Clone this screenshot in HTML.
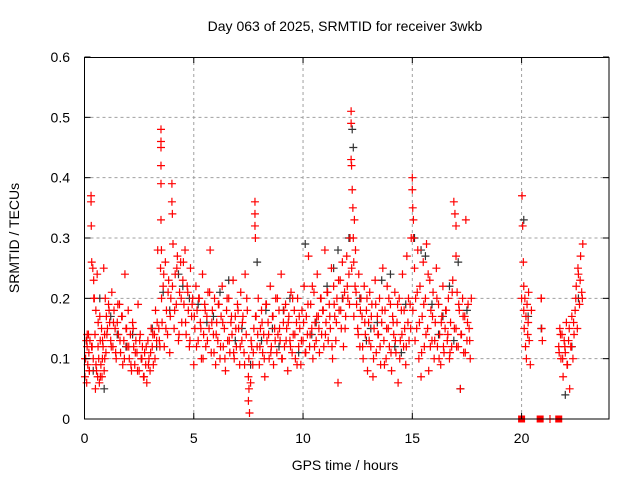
<!DOCTYPE html>
<html><head><meta charset="utf-8"><title>SRMTID 3wkb</title>
<style>
html,body{margin:0;padding:0;background:#fff;}
svg{display:block;font-family:"Liberation Sans",sans-serif;}
</style></head>
<body>
<svg id="chart" width="640" height="480" viewBox="0 0 640 480" xmlns="http://www.w3.org/2000/svg">
<rect width="640" height="480" fill="#fff"/>
<text x="345" y="31" font-size="14" text-anchor="middle" fill="#000">Day 063 of 2025, SRMTID for receiver 3wkb</text>
<g id="grid"></g>
<g id="marks"></g>
<rect x="84.5" y="57.5" width="524.5" height="361.5" fill="none" stroke="#000" stroke-width="1"/>
<g id="axes"></g>
<text x="345" y="470" font-size="14" text-anchor="middle">GPS time / hours</text>
<text transform="translate(19,238) rotate(-90)" font-size="14" text-anchor="middle">SRMTID / TECUs</text>
</svg>
<script>
const xTicks=[0,5,10,15,20];
const yTicks=[0,0.1,0.2,0.3,0.4,0.5,0.6];
const yTickLabels=["0","0.1","0.2","0.3","0.4","0.5","0.6"];
const redT=[
0.02,0.05,0.08,0.1,0.12,0.15,0.18,0.2,0.22,0.25,
0.3,0.3,0.31,0.33,0.35,0.38,0.4,0.42,0.45,0.48,
0.5,0.52,0.55,0.58,0.6,0.62,0.65,0.68,0.7,0.72,
0.75,0.78,0.8,0.82,0.85,0.88,0.9,0.92,0.95,0.98,
1.0,1.05,1.1,1.15,1.2,1.25,1.3,1.35,1.4,1.45,
1.5,1.55,1.6,1.65,1.7,1.75,1.8,1.85,1.9,1.95,
2.0,2.05,2.1,2.15,2.2,2.25,2.3,2.35,2.4,2.45,
2.5,2.55,2.6,2.65,2.7,2.75,2.8,2.85,2.9,2.95,
3.0,3.05,3.1,3.15,3.2,3.25,3.3,3.35,3.4,3.45,
3.48,3.5,3.5,3.5,3.5,3.5,3.5,3.52,3.55,3.6,
3.65,3.7,3.75,3.8,3.85,3.9,3.95,4.0,4.0,4.02,
4.05,4.1,4.15,4.2,4.25,4.3,4.35,4.4,4.45,4.5,
4.55,4.6,4.65,4.7,4.75,4.8,4.85,4.9,4.95,5.0,
5.05,5.1,5.15,5.2,5.25,5.3,5.35,5.4,5.45,5.5,
5.55,5.6,5.65,5.7,5.75,5.8,5.85,5.9,5.95,6.0,
6.05,6.1,6.15,6.2,6.25,6.3,6.35,6.4,6.45,6.5,
6.55,6.6,6.65,6.7,6.75,6.8,6.85,6.9,6.95,7.0,
7.05,7.1,7.15,7.2,7.25,7.3,7.35,7.4,7.45,7.5,
7.5,7.52,7.55,7.6,7.65,7.7,7.75,7.8,7.8,7.8,
7.82,7.85,7.9,7.95,8.0,8.05,8.1,8.15,8.2,8.25,
8.3,8.35,8.4,8.45,8.5,8.55,8.6,8.65,8.7,8.75,
8.8,8.85,8.9,8.95,9.0,9.05,9.1,9.15,9.2,9.25,
9.3,9.35,9.4,9.45,9.5,9.55,9.6,9.65,9.7,9.75,
9.8,9.85,9.9,9.95,10.0,10.05,10.1,10.15,10.2,10.25,
10.3,10.35,10.4,10.45,10.5,10.55,10.6,10.65,10.7,10.75,
10.8,10.85,10.9,10.95,11.0,11.05,11.1,11.15,11.2,11.25,
11.3,11.35,11.4,11.45,11.5,11.55,11.6,11.65,11.7,11.75,
11.8,11.85,11.9,11.95,12.0,12.05,12.1,12.15,
12.2,12.2,12.2,12.22,12.25,12.28,12.3,12.32,12.35,12.38,
12.4,12.45,12.5,12.55,12.6,12.65,12.7,12.75,12.8,12.85,
12.9,12.95,13.0,13.05,13.1,13.15,13.2,13.25,13.3,13.35,
13.4,13.45,13.5,13.55,13.6,13.65,13.7,13.75,13.8,13.85,
13.9,13.95,14.0,14.05,14.1,14.15,14.2,14.25,14.3,14.35,
14.4,14.45,14.5,14.55,14.6,14.65,14.7,14.75,14.8,14.85,
14.9,14.95,15.0,15.0,15.02,15.05,15.05,15.1,15.15,15.2,
15.25,15.3,15.35,15.4,15.45,15.5,15.55,15.6,15.65,15.7,
15.75,15.8,15.85,15.9,15.95,16.0,16.05,16.1,16.15,16.2,
16.25,16.3,16.35,16.4,16.45,16.5,16.55,16.6,16.65,16.7,
16.75,16.8,16.85,16.9,16.95,17.0,17.0,17.0,17.05,17.1,
17.15,17.2,17.25,17.3,17.35,17.4,17.45,17.5,17.55,17.6,
17.65,17.7,20.0,20.02,20.05,20.08,20.1,20.1,20.12,20.15,
20.18,20.2,20.22,20.25,20.28,20.3,20.32,20.35,20.4,20.45,
20.9,20.9,20.92,20.95,21.7,21.75,21.8,21.85,21.9,21.95,
22.0,22.05,22.1,22.15,22.2,22.25,22.3,22.35,22.4,22.45,
22.5,22.55,22.6,22.65,22.7,22.75,22.8,21.72,21.78,21.88,
21.98,22.08,22.18,22.28,22.38,22.48,22.58,22.68,22.78];
const redV=[
0.07,0.1,0.13,0.06,0.12,0.09,0.14,0.11,0.08,0.13,
0.37,0.36,0.32,0.26,0.12,0.25,0.1,0.23,0.2,0.14,
0.05,0.18,0.08,0.24,0.07,0.12,0.1,0.06,0.17,0.13,
0.09,0.15,0.07,0.1,0.12,0.25,0.08,0.14,0.2,0.11,
0.17,0.15,0.19,0.16,0.13,0.21,0.12,0.18,0.15,0.1,
0.16,0.14,0.19,0.11,0.17,0.09,0.13,0.24,0.15,0.12,
0.18,0.1,0.14,0.08,0.16,0.12,0.09,0.13,0.11,0.19,
0.08,0.14,0.1,0.12,0.07,0.11,0.09,0.06,0.13,0.1,
0.08,0.15,0.12,0.09,0.14,0.18,0.13,0.28,0.15,0.12,
0.25,0.48,0.46,0.45,0.42,0.39,0.33,0.28,0.16,0.22,
0.12,0.26,0.18,0.14,0.23,0.11,0.2,0.39,0.36,0.34,
0.29,0.15,0.24,0.19,0.27,0.13,0.21,0.26,0.16,0.23,
0.19,0.28,0.14,0.22,0.18,0.12,0.25,0.17,0.2,0.09,
0.15,0.22,0.18,0.13,0.2,0.16,0.1,0.24,0.14,0.19,
0.12,0.17,0.21,0.15,0.28,0.11,0.18,0.14,0.2,0.09,
0.16,0.13,0.19,0.1,0.17,0.22,0.12,0.15,0.08,0.18,
0.13,0.2,0.11,0.16,0.14,0.23,0.1,0.17,0.12,0.19,
0.15,0.09,0.21,0.13,0.17,0.11,0.24,0.14,0.18,0.07,
0.03,0.1,0.01,0.06,0.12,0.09,0.15,0.36,0.34,0.32,
0.3,0.17,0.12,0.2,0.09,0.15,0.18,0.11,0.14,0.07,
0.19,0.13,0.16,0.1,0.22,0.12,0.17,0.09,0.15,0.2,
0.11,0.14,0.18,0.13,0.24,0.1,0.16,0.12,0.19,0.15,
0.08,0.17,0.13,0.21,0.11,0.14,0.18,0.1,0.16,0.2,
0.12,0.15,0.09,0.18,0.13,0.22,0.11,0.17,0.14,0.27,
0.12,0.19,0.15,0.1,0.21,0.16,0.13,0.24,0.17,0.11,
0.2,0.14,0.18,0.12,0.28,0.16,0.21,0.13,0.19,0.15,
0.25,0.1,0.22,0.17,0.13,0.2,0.06,0.18,0.23,0.15,
0.26,0.12,0.21,0.17,0.27,0.2,0.24,0.3,
0.51,0.49,0.43,0.42,0.38,0.35,0.3,0.26,0.33,0.22,
0.28,0.19,0.15,0.24,0.12,0.2,0.17,0.1,0.22,0.14,
0.18,0.08,0.16,0.21,0.12,0.19,0.07,0.15,0.23,0.11,
0.17,0.14,0.2,0.09,0.16,0.25,0.13,0.18,0.1,0.22,
0.15,0.12,0.19,0.08,0.17,0.14,0.21,0.11,0.16,0.06,
0.2,0.13,0.18,0.24,0.12,0.15,0.09,0.27,0.16,0.13,
0.19,0.3,0.4,0.38,0.35,0.33,0.3,0.25,0.2,0.15,
0.28,0.1,0.22,0.07,0.17,0.26,0.12,0.2,0.29,0.15,
0.08,0.23,0.18,0.13,0.21,0.1,0.16,0.25,0.12,0.19,
0.14,0.09,0.17,0.22,0.11,0.15,0.18,0.13,0.2,0.1,
0.16,0.12,0.23,0.36,0.34,0.32,0.27,0.15,0.21,0.12,
0.18,0.05,0.14,0.2,0.11,0.17,0.33,0.13,0.19,0.15,
0.1,0.2,0.2,0.37,0.32,0.26,0.22,0.18,0.15,0.2,
0.12,0.17,0.1,0.19,0.14,0.16,0.21,0.13,0.09,0.18,
0.2,0.2,0.15,0.13,0.12,0.15,0.1,0.14,0.07,0.13,
0.11,0.16,0.09,0.13,0.05,0.12,0.17,0.1,0.14,0.18,
0.22,0.15,0.24,0.19,0.27,0.21,0.29,0.11,0.14,0.1,
0.12,0.09,0.15,0.12,0.16,0.2,0.25,0.23,0.2];
const redT2=[
0.025,0.125,0.225,0.325,0.425,0.525,0.625,0.725,0.825,0.925,
1.025,1.125,1.225,1.325,1.425,1.525,1.625,1.725,1.825,1.925,
2.025,2.125,2.225,2.325,2.425,2.525,2.625,2.725,2.825,2.925,
3.025,3.125,3.225,3.325,3.425,3.525,3.625,3.725,3.825,3.925,
4.025,4.125,4.225,4.325,4.425,4.525,4.625,4.725,4.825,4.925,
5.025,5.125,5.225,5.325,5.425,5.525,5.625,5.725,5.825,5.925,
6.025,6.125,6.225,6.325,6.425,6.525,6.625,6.725,6.825,6.925,
7.025,7.125,7.225,7.325,7.425,7.525,7.625,7.725,7.825,7.925,
8.025,8.125,8.225,8.325,8.425,8.525,8.625,8.725,8.825,8.925,
9.025,9.125,9.225,9.325,9.425,9.525,9.625,9.725,9.825,9.925,
10.025,10.125,10.225,10.325,10.425,10.525,10.625,10.725,10.825,10.925,
11.025,11.125,11.225,11.325,11.425,11.525,11.625,11.725,11.825,11.925,
12.025,12.125,12.225,12.325,12.425,12.525,12.625,12.725,12.825,12.925,
13.025,13.125,13.225,13.325,13.425,13.525,13.625,13.725,13.825,13.925,
14.025,14.125,14.225,14.325,14.425,14.525,14.625,14.725,14.825,14.925,
15.025,15.125,15.225,15.325,15.425,15.525,15.625,15.725,15.825,15.925,
16.025,16.125,16.225,16.325,16.425,16.525,16.625,16.725,16.825,16.925,
17.025,17.125,17.225,17.325,17.425,17.525,17.625];
const redV2=[
0.1,0.14,0.08,0.12,0.2,0.09,0.16,0.07,0.13,0.1,
0.14,0.18,0.12,0.16,0.11,0.19,0.13,0.17,0.1,0.15,
0.12,0.09,0.15,0.11,0.08,0.13,0.1,0.07,0.12,0.09,
0.11,0.14,0.1,0.16,0.13,0.2,0.24,0.15,0.21,0.17,
0.22,0.18,0.25,0.14,0.2,0.26,0.16,0.21,0.13,0.19,
0.17,0.12,0.2,0.15,0.1,0.18,0.13,0.21,0.16,0.11,
0.14,0.19,0.12,0.16,0.1,0.2,0.13,0.17,0.11,0.15,
0.18,0.12,0.16,0.09,0.2,0.05,0.13,0.11,0.17,0.14,
0.12,0.16,0.1,0.19,0.14,0.11,0.17,0.13,0.2,0.15,
0.1,0.18,0.13,0.16,0.12,0.2,0.14,0.09,0.17,0.13,
0.16,0.11,0.19,0.14,0.22,0.12,0.17,0.15,0.2,0.18,
0.14,0.21,0.17,0.12,0.19,0.16,0.23,0.18,0.2,0.15,
0.22,0.19,0.25,0.17,0.21,0.14,0.18,0.12,0.16,0.2,
0.13,0.17,0.1,0.19,0.14,0.12,0.18,0.09,0.15,0.2,
0.11,0.16,0.13,0.19,0.1,0.14,0.18,0.12,0.2,0.15,
0.18,0.13,0.21,0.16,0.11,0.19,0.14,0.24,0.12,0.17,
0.13,0.2,0.1,0.16,0.12,0.18,0.14,0.11,0.21,0.15,
0.12,0.19,0.14,0.17,0.11,0.16,0.13];
const blackT=[0.1,0.4,0.7,1.2,1.9,2.6,3.1,3.6,3.9,4.3,4.8,5.6,6.2,6.9,7.6,7.9,8.3,8.9,9.4,10.1,10.6,11.1,11.6,12.1,12.25,12.3,12.6,13.1,13.6,14.2,14.7,15.1,15.6,16.2,16.7,17.2,17.5,20.1,20.3,20.9,22.0,22.3,22.6,0.9,2.2,5.2,6.6,8.6,9.8,11.4,12.9,14.0,15.4,16.4,17.1,1.5,3.3,4.5,5.9,7.2,8.1,9.1,10.4,11.8,13.4,14.5,15.9,16.9];
const blackV=[0.13,0.08,0.2,0.17,0.12,0.1,0.15,0.21,0.18,0.24,0.2,0.16,0.21,0.13,0.09,0.26,0.18,0.12,0.2,0.29,0.16,0.22,0.28,0.3,0.48,0.45,0.2,0.15,0.23,0.12,0.19,0.3,0.27,0.14,0.22,0.05,0.18,0.33,0.17,0.15,0.04,0.12,0.2,0.05,0.14,0.19,0.23,0.15,0.11,0.25,0.13,0.24,0.28,0.17,0.26,0.14,0.12,0.22,0.17,0.15,0.13,0.18,0.14,0.2,0.16,0.11,0.19,0.13];
const zeroT=[20.0,20.85,21.7];
const zeroV=[0,0,0];

const NS='http://www.w3.org/2000/svg';
const X0=84.5,X1=609,Y0=419,Y1=57,XMAX=24,YMAX=0.6;
function xs(t){return X0+(X1-X0)*t/XMAX;}
function ys(v){return Y0-(Y0-Y1)*v/YMAX;}
const grid=document.getElementById('grid'),axes=document.getElementById('axes'),marks=document.getElementById('marks');
function mk(tag,attrs,parent){const e=document.createElementNS(NS,tag);for(const k in attrs)e.setAttribute(k,attrs[k]);parent.appendChild(e);return e;}
xTicks.forEach(t=>{
  const x=xs(t);
  if(t>0){const g=mk('line',{x1:x,x2:x,y1:Y0,y2:Y1,stroke:'#a0a0a0','stroke-dasharray':'3,3'},grid);
  
  }
  const tk=mk('line',{x1:x,x2:x,y1:Y0,y2:Y0-6,stroke:'#000'},axes);
  
  
  const tk2=mk('line',{x1:x,x2:x,y1:Y1,y2:Y1+6,stroke:'#000'},axes);
  
  
  const l=mk('text',{x:x,y:443,'font-size':14,'text-anchor':'middle'},axes);l.textContent=String(t);
  
  
});
yTicks.forEach((v,i)=>{
  const y=ys(v);
  if(v>0&&v<YMAX){const g=mk('line',{x1:X0,x2:X1,y1:y,y2:y,stroke:'#a0a0a0','stroke-dasharray':'3,3'},grid);
  
  }
  const tk=mk('line',{x1:X0,x2:X0+6,y1:y,y2:y,stroke:'#000'},axes);
  
  
  const tk2=mk('line',{x1:X1,x2:X1-6,y1:y,y2:y,stroke:'#000'},axes);
  
  
  const l=mk('text',{x:70,y:y+5,'font-size':14,'text-anchor':'end'},axes);l.textContent=yTickLabels[i];
  
  
});
function plus(t,v,color,name){
  const x=xs(t),y=ys(v);
  const p=mk('path',{d:'M'+(x-4)+' '+y+'H'+(x+4)+'M'+x+' '+(y-4)+'V'+(y+4),stroke:color,'stroke-width':1.2,fill:'none'},marks);
  
  
}
blackT.forEach((t,i)=>plus(t,blackV[i],'#333','black-point'));
redT.forEach((t,i)=>plus(t,redV[i],'#ff0000','red-point'));
redT2.forEach((t,i)=>plus(t,redV2[i],'#ff0000','red-point'));
zeroT.forEach((t,i)=>{
  const r=mk('rect',{x:xs(t)-3.5,y:ys(zeroV[i])-3.5,width:7,height:7,fill:'#ff0000'},marks);
  
  
});
plus(21.3,0,'#ff0000','zero-plus');
</script>
</body></html>
